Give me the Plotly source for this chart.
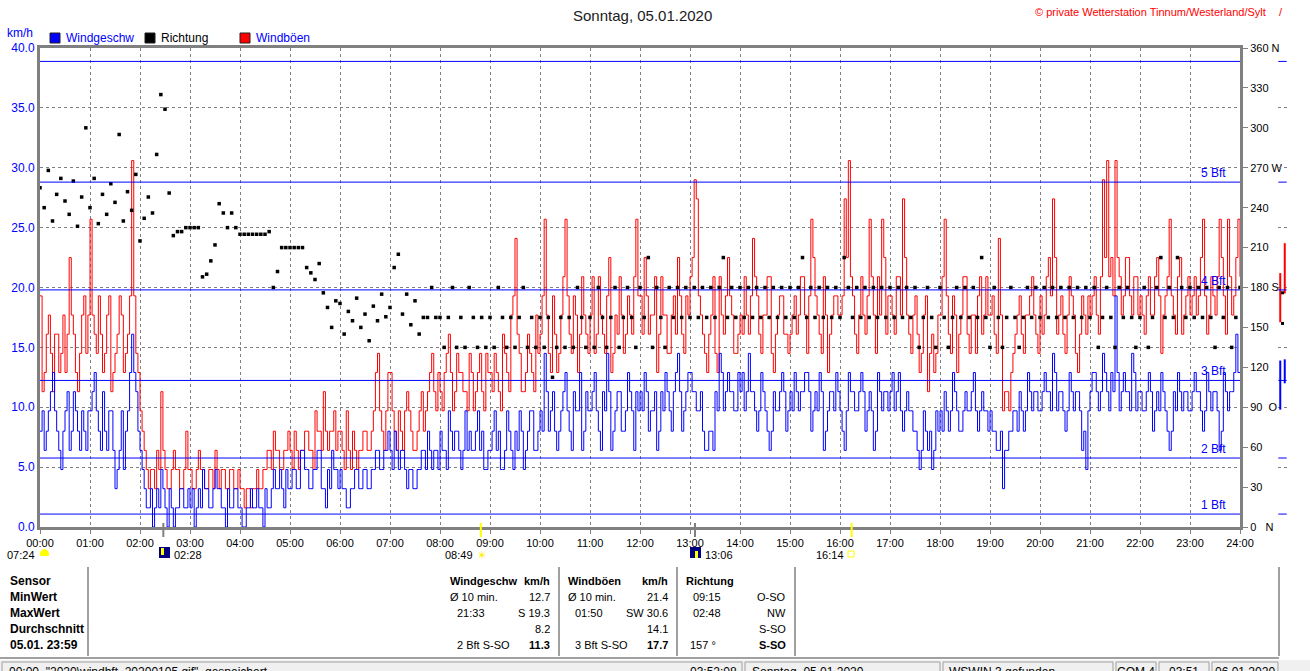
import plotly.graph_objects as go

# wind speed and gusts, 2.5 minute steps from 00:00 to 24:00 (km/h)
speed_kmh = [
    8.0, 9.7, 6.4, 8.0, 9.7, 11.3, 12.9, 9.7, 8.0, 6.4, 4.8, 8.0, 9.7, 11.3, 6.4, 8.0, 11.3, 9.7, 8.0, 6.4, 9.7, 8.0, 6.4, 9.7,
    9.7, 11.3, 12.9, 9.7, 8.0, 6.4, 11.3, 8.0, 6.4, 9.7, 9.7, 6.4, 3.2, 4.8, 6.4, 9.7, 4.8, 8.0, 9.7, 12.9, 16.1, 12.9, 11.3, 8.0,
    6.4, 4.8, 3.2, 1.6, 1.6, 3.2, 0.0, 1.6, 3.2, 1.6, 4.8, 3.2, 1.6, 0.0, 3.2, 1.6, 0.0, 1.6, 1.6, 3.2, 3.2, 1.6, 1.6, 3.2,
    1.6, 3.2, 0.0, 1.6, 3.2, 1.6, 4.8, 3.2, 3.2, 1.6, 1.6, 3.2, 4.8, 3.2, 3.2, 1.6, 1.6, 0.0, 3.2, 1.6, 1.6, 3.2, 3.2, 1.6,
    1.6, 0.0, 0.0, 1.6, 1.6, 3.2, 1.6, 1.6, 3.2, 1.6, 1.6, 0.0, 3.2, 1.6, 1.6, 3.2, 4.8, 3.2, 3.2, 4.8, 3.2, 1.6, 4.8, 3.2,
    3.2, 4.8, 4.8, 3.2, 3.2, 6.4, 6.4, 4.8, 4.8, 3.2, 3.2, 4.8, 4.8, 6.4, 6.4, 3.2, 3.2, 1.6, 4.8, 3.2, 6.4, 4.8, 4.8, 3.2,
    4.8, 3.2, 3.2, 1.6, 1.6, 3.2, 3.2, 4.8, 4.8, 3.2, 3.2, 4.8, 4.8, 3.2, 3.2, 4.8, 4.8, 6.4, 6.4, 4.8, 4.8, 6.4, 6.4, 8.0,
    6.4, 4.8, 8.0, 6.4, 4.8, 6.4, 6.4, 4.8, 3.2, 4.8, 4.8, 3.2, 3.2, 4.8, 4.8, 6.4, 6.4, 4.8, 8.0, 6.4, 4.8, 6.4, 6.4, 4.8,
    8.0, 6.4, 6.4, 4.8, 9.7, 8.0, 6.4, 8.0, 8.0, 6.4, 4.8, 6.4, 9.7, 6.4, 8.0, 6.4, 6.4, 8.0, 9.7, 6.4, 8.0, 4.8, 4.8, 6.4,
    6.4, 8.0, 9.7, 6.4, 8.0, 4.8, 4.8, 6.4, 9.7, 8.0, 6.4, 4.8, 8.0, 6.4, 9.7, 8.0, 4.8, 6.4, 8.0, 9.7, 9.7, 6.4, 6.4, 8.0,
    9.7, 8.0, 14.5, 11.3, 8.0, 9.7, 11.3, 8.0, 6.4, 8.0, 9.7, 11.3, 12.9, 9.7, 8.0, 6.4, 11.3, 9.7, 9.7, 12.9, 6.4, 8.0, 11.3, 9.7,
    9.7, 11.3, 12.9, 9.7, 8.0, 6.4, 11.3, 9.7, 14.5, 11.3, 6.4, 8.0, 9.7, 11.3, 11.3, 8.0, 8.0, 9.7, 12.9, 11.3, 9.7, 6.4, 11.3, 9.7,
    11.3, 9.7, 12.9, 11.3, 8.0, 9.7, 9.7, 11.3, 6.4, 8.0, 11.3, 9.7, 12.9, 11.3, 9.7, 8.0, 11.3, 12.9, 14.5, 11.3, 8.0, 9.7, 11.3, 12.9,
    12.9, 11.3, 11.3, 9.7, 9.7, 11.3, 8.0, 6.4, 6.4, 8.0, 8.0, 6.4, 11.3, 9.7, 14.5, 12.9, 9.7, 11.3, 12.9, 11.3, 11.3, 9.7, 9.7, 12.9,
    11.3, 12.9, 9.7, 11.3, 14.5, 11.3, 11.3, 9.7, 8.0, 9.7, 12.9, 11.3, 9.7, 8.0, 6.4, 8.0, 11.3, 9.7, 9.7, 11.3, 12.9, 11.3, 8.0, 9.7,
    11.3, 9.7, 12.9, 11.3, 9.7, 11.3, 11.3, 12.9, 12.9, 11.3, 8.0, 9.7, 11.3, 9.7, 12.9, 11.3, 6.4, 8.0, 9.7, 11.3, 11.3, 9.7, 12.9, 11.3,
    9.7, 8.0, 6.4, 9.7, 12.9, 11.3, 11.3, 9.7, 9.7, 11.3, 12.9, 11.3, 8.0, 9.7, 11.3, 9.7, 6.4, 8.0, 12.9, 11.3, 9.7, 11.3, 11.3, 9.7,
    11.3, 12.9, 9.7, 11.3, 12.9, 9.7, 8.0, 9.7, 11.3, 9.7, 9.7, 8.0, 8.0, 6.4, 4.8, 6.4, 9.7, 8.0, 6.4, 8.0, 4.8, 6.4, 9.7, 8.0,
    9.7, 8.0, 11.3, 9.7, 8.0, 9.7, 12.9, 11.3, 9.7, 8.0, 8.0, 9.7, 11.3, 9.7, 9.7, 11.3, 12.9, 9.7, 8.0, 9.7, 11.3, 9.7, 9.7, 8.0,
    9.7, 8.0, 8.0, 6.4, 6.4, 8.0, 3.2, 6.4, 6.4, 8.0, 8.0, 9.7, 9.7, 8.0, 11.3, 9.7, 8.0, 9.7, 12.9, 11.3, 9.7, 11.3, 11.3, 9.7,
    9.7, 11.3, 12.9, 11.3, 11.3, 9.7, 14.5, 12.9, 9.7, 11.3, 11.3, 9.7, 8.0, 9.7, 12.9, 11.3, 9.7, 11.3, 11.3, 9.7, 6.4, 8.0, 4.8, 9.7,
    11.3, 12.9, 12.9, 11.3, 9.7, 11.3, 14.5, 12.9, 11.3, 9.7, 12.9, 11.3, 19.3, 12.9, 9.7, 11.3, 12.9, 11.3, 11.3, 9.7, 14.5, 12.9, 9.7, 11.3,
    11.3, 9.7, 9.7, 11.3, 12.9, 11.3, 8.0, 9.7, 11.3, 9.7, 12.9, 11.3, 9.7, 8.0, 6.4, 8.0, 11.3, 9.7, 12.9, 11.3, 9.7, 11.3, 11.3, 9.7,
    9.7, 11.3, 12.9, 11.3, 11.3, 9.7, 8.0, 9.7, 12.9, 11.3, 9.7, 11.3, 11.3, 9.7, 6.4, 8.0, 12.9, 11.3, 9.7, 11.3, 11.3, 12.9, 16.1, 12.9,
    12.9,
]
gust_kmh = [
    19.3, 11.3, 12.9, 16.1, 17.7, 14.5, 11.3, 16.1, 16.1, 12.9, 14.5, 17.7, 12.9, 16.1, 22.5, 17.7, 16.1, 12.9, 11.3, 14.5, 17.7, 19.3, 14.5, 17.7,
    25.7, 17.7, 16.1, 14.5, 19.3, 16.1, 12.9, 14.5, 17.7, 19.3, 11.3, 12.9, 14.5, 16.1, 19.3, 17.7, 12.9, 14.5, 16.1, 19.3, 30.6, 19.3, 14.5, 12.9,
    9.7, 8.0, 6.4, 4.8, 3.2, 4.8, 4.8, 3.2, 6.4, 4.8, 11.3, 6.4, 4.8, 3.2, 3.2, 4.8, 6.4, 4.8, 4.8, 3.2, 3.2, 4.8, 8.0, 4.8,
    4.8, 3.2, 3.2, 4.8, 6.4, 4.8, 4.8, 3.2, 3.2, 4.8, 4.8, 3.2, 6.4, 4.8, 3.2, 4.8, 4.8, 3.2, 3.2, 4.8, 4.8, 3.2, 3.2, 4.8,
    3.2, 3.2, 1.6, 3.2, 3.2, 1.6, 3.2, 3.2, 4.8, 3.2, 3.2, 4.8, 4.8, 6.4, 6.4, 4.8, 8.0, 6.4, 6.4, 4.8, 4.8, 6.4, 6.4, 8.0,
    6.4, 4.8, 8.0, 6.4, 4.8, 6.4, 6.4, 8.0, 8.0, 6.4, 6.4, 4.8, 9.7, 8.0, 8.0, 6.4, 11.3, 8.0, 6.4, 8.0, 8.0, 9.7, 6.4, 8.0,
    8.0, 6.4, 4.8, 9.7, 6.4, 4.8, 8.0, 6.4, 4.8, 6.4, 6.4, 8.0, 8.0, 6.4, 6.4, 8.0, 9.7, 12.9, 14.5, 9.7, 8.0, 6.4, 9.7, 12.9,
    12.9, 9.7, 8.0, 6.4, 9.7, 8.0, 6.4, 9.7, 11.3, 9.7, 8.0, 6.4, 6.4, 8.0, 9.7, 11.3, 8.0, 9.7, 11.3, 12.9, 14.5, 11.3, 9.7, 12.9,
    11.3, 9.7, 12.9, 14.5, 16.1, 12.9, 9.7, 11.3, 14.5, 12.9, 12.9, 11.3, 11.3, 9.7, 14.5, 12.9, 9.7, 11.3, 12.9, 14.5, 11.3, 9.7, 14.5, 12.9,
    12.9, 11.3, 14.5, 12.9, 11.3, 9.7, 16.1, 14.5, 12.9, 11.3, 17.7, 19.3, 24.1, 16.1, 14.5, 11.3, 11.3, 12.9, 16.1, 14.5, 12.9, 11.3, 17.7, 14.5,
    16.1, 19.3, 25.7, 17.7, 14.5, 12.9, 19.3, 16.1, 12.9, 14.5, 17.7, 20.9, 25.7, 19.3, 16.1, 14.5, 19.3, 17.7, 12.9, 16.1, 20.9, 17.7, 16.1, 14.5,
    17.7, 20.9, 14.5, 16.1, 20.9, 17.7, 16.1, 14.5, 19.3, 22.5, 12.9, 14.5, 17.7, 16.1, 20.9, 17.7, 14.5, 16.1, 19.3, 17.7, 16.1, 20.9, 25.7, 19.3,
    19.3, 16.1, 22.5, 19.3, 16.1, 17.7, 17.7, 20.9, 12.9, 16.1, 20.9, 17.7, 17.7, 14.5, 14.5, 17.7, 19.3, 16.1, 22.5, 19.3, 16.1, 14.5, 19.3, 17.7,
    20.9, 22.5, 29.0, 27.4, 19.3, 17.7, 16.1, 14.5, 12.9, 16.1, 17.7, 20.9, 14.5, 12.9, 20.9, 17.7, 16.1, 19.3, 22.5, 19.3, 17.7, 14.5, 14.5, 16.1,
    17.7, 16.1, 20.9, 17.7, 16.1, 19.3, 24.1, 20.9, 19.3, 16.1, 14.5, 17.7, 17.7, 20.9, 20.9, 14.5, 12.9, 16.1, 17.7, 19.3, 19.3, 16.1, 16.1, 14.5,
    16.1, 17.7, 19.3, 16.1, 17.7, 20.9, 20.9, 17.7, 14.5, 19.3, 25.7, 22.5, 19.3, 17.7, 16.1, 14.5, 20.9, 17.7, 12.9, 16.1, 17.7, 19.3, 19.3, 17.7,
    17.7, 19.3, 27.4, 22.5, 30.6, 20.9, 19.3, 16.1, 14.5, 17.7, 20.9, 17.7, 16.1, 19.3, 25.7, 20.9, 17.7, 14.5, 20.9, 17.7, 25.7, 22.5, 16.1, 19.3,
    19.3, 17.7, 16.1, 20.9, 20.9, 17.7, 27.4, 22.5, 17.7, 16.1, 14.5, 17.7, 19.3, 16.1, 12.9, 14.5, 17.7, 19.3, 11.3, 14.5, 16.1, 12.9, 14.5, 17.7,
    17.7, 20.9, 25.7, 19.3, 16.1, 14.5, 19.3, 17.7, 12.9, 16.1, 17.7, 20.9, 20.9, 16.1, 14.5, 17.7, 17.7, 14.5, 19.3, 20.9, 16.1, 17.7, 20.9, 17.7,
    17.7, 19.3, 16.1, 14.5, 24.1, 17.7, 9.7, 11.3, 11.3, 9.7, 12.9, 14.5, 16.1, 17.7, 19.3, 16.1, 14.5, 17.7, 17.7, 19.3, 20.9, 17.7, 16.1, 14.5,
    19.3, 16.1, 17.7, 20.9, 22.5, 19.3, 27.4, 22.5, 16.1, 17.7, 19.3, 16.1, 14.5, 17.7, 20.9, 19.3, 17.7, 14.5, 12.9, 16.1, 19.3, 17.7, 16.1, 19.3,
    17.7, 19.3, 20.9, 17.7, 16.1, 20.9, 29.0, 22.5, 30.6, 20.9, 22.5, 19.3, 30.6, 22.5, 20.9, 17.7, 19.3, 22.5, 22.5, 19.3, 17.7, 20.9, 20.9, 17.7,
    19.3, 17.7, 16.1, 19.3, 20.9, 17.7, 17.7, 20.9, 22.5, 19.3, 14.5, 17.7, 19.3, 20.9, 25.7, 19.3, 17.7, 16.1, 20.9, 22.5, 16.1, 17.7, 19.3, 20.9,
    17.7, 19.3, 20.9, 17.7, 19.3, 22.5, 25.7, 19.3, 16.1, 17.7, 20.9, 19.3, 17.7, 20.9, 25.7, 22.5, 19.3, 16.1, 25.7, 20.9, 17.7, 19.3, 22.5, 25.7,
    20.9,
]
# wind direction, 5 minute steps (degrees)
direction_deg = [
    255, 240, 268, 230, 250, 262, 245, 235, 260, 226, 248, 300,
    240, 262, 228, 250, 235, 258, 244, 295, 230, 252, 238, 265,
    215, 232, 248, 236, 280, 325, 314, 251, 219, 222, 222, 225,
    225, 225, 225, 188, 190, 200, 212, 243, 236, 225, 236, 225,
    220, 220, 220, 220, 220, 220, 220, 222, 180, 192, 210, 210,
    210, 210, 210, 210, 195, 191, 186, 198, 176, 165, 150, 170,
    168, 145, 162, 155, 172, 150, 160, 140, 166, 155, 175, 158,
    165, 195, 205, 160, 175, 152, 170, 145, 157.5, 157.5, 180, 157.5,
    157.5, 135, 157.5, 180, 135, 157.5, 135, 180, 157.5, 135, 157.5, 135,
    157.5, 135, 180, 157.5, 135, 157.5, 135, 157.5, 180, 135, 157.5, 135,
    157.5, 135, 157.5, 112.5, 135, 157.5, 135, 157.5, 135, 180, 157.5, 135,
    157.5, 135, 180, 157.5, 135, 157.5, 180, 135, 157.5, 180, 157.5, 135,
    180, 157.5, 202.5, 135, 180, 157.5, 135, 180, 157.5, 180, 157.5, 180,
    157.5, 180, 157.5, 180, 157.5, 180, 157.5, 180, 202.5, 157.5, 180, 157.5,
    180, 157.5, 180, 157.5, 180, 157.5, 180, 157.5, 180, 157.5, 180, 157.5,
    180, 157.5, 180, 202.5, 157.5, 180, 157.5, 180, 157.5, 180, 157.5, 180,
    157.5, 202.5, 180, 157.5, 180, 157.5, 180, 157.5, 180, 157.5, 180, 157.5,
    180, 157.5, 180, 157.5, 180, 157.5, 180, 135, 157.5, 180, 157.5, 135,
    180, 157.5, 135, 157.5, 180, 157.5, 180, 157.5, 180, 157.5, 202.5, 157.5,
    135, 180, 157.5, 135, 157.5, 180, 157.5, 135, 157.5, 180, 157.5, 180,
    157.5, 180, 157.5, 180, 157.5, 180, 157.5, 180, 157.5, 180, 157.5, 180,
    157.5, 180, 135, 157.5, 180, 157.5, 135, 180, 157.5, 180, 157.5, 135,
    157.5, 180, 135, 157.5, 180, 202.5, 157.5, 180, 157.5, 202.5, 180, 157.5,
    180, 157.5, 180, 157.5, 180, 157.5, 135, 180, 157.5, 180, 135, 157.5,
    180,
]
minutes_fine = [i * 2.5 for i in range(len(speed_kmh))]
minutes_dir = [i * 5 for i in range(len(direction_deg))]

hour_labels = ["%02d:00" % h for h in range(25)]
dir_ticks = [0, 30, 60, 90, 120, 150, 180, 210, 240, 270, 300, 330, 360]
dir_labels = ["0\u00a0\u00a0\u00a0N", "30", "60", "90\u00a0\u00a0O", "120", "150", "180 S",
              "210", "240", "270 W", "300", "330", "360 N"]

# Beaufort lower limits in km/h
bft_limits = [1.08, 5.76, 12.24, 19.8, 28.8, 38.88]
bft_labels = ["1 Bft", "2 Bft", "3 Bft", "4 Bft", "5 Bft", ""]

# sun / moon events (minutes after midnight)
event_min = [148, 529, 786, 974]
event_color = ["#808080", "#ffff00", "#808080", "#ffff00"]

# small "now" strip on the right
strip_gust = [[17.1, 21.2], [19.5, 23.7]]
strip_speed = [[9.8, 13.9], [12.0, 14.0]]
strip_dir = [153, 176]

BLUE = "#0000ff"
RED = "#ff0000"
GRAY = "#808080"
FONT = "Liberation Sans, Arial, sans-serif"

# plot area in pixels
PL, PT, PW, PH = 40, 48, 1250, 479


def px(x):
    return (x - PL) / PW


def py(y):
    return (PT + PH - y) / PH


fig = go.Figure()
fig.add_trace(go.Scatter(x=minutes_fine, y=gust_kmh, mode="lines", line=dict(color=RED, width=1, shape="hv"),
                         name="Windböen"))
fig.add_trace(go.Scatter(x=minutes_dir, y=direction_deg, mode="markers", yaxis="y2",
                         marker=dict(color="black", size=3.5, symbol="square"), name="Richtung"))
fig.add_trace(go.Scatter(x=minutes_fine, y=speed_kmh, mode="lines", line=dict(color=BLUE, width=1, shape="hv"),
                         name="Windgeschw"))

# right hand strip
for i, seg in enumerate(strip_gust):
    fig.add_trace(go.Scatter(x=[i, i], y=seg, mode="lines", xaxis="x2", line=dict(color=RED, width=2)))
for i, seg in enumerate(strip_speed):
    fig.add_trace(go.Scatter(x=[i, i], y=seg, mode="lines", xaxis="x2", line=dict(color=BLUE, width=2)))
fig.add_trace(go.Scatter(x=[0.5] * len(strip_dir), y=strip_dir, mode="markers", xaxis="x2", yaxis="y2",
                         marker=dict(color="black", size=3, symbol="square")))
fig.add_trace(go.Scatter(x=[0.5] * len(bft_limits), y=bft_limits, mode="markers", xaxis="x2",
                         marker=dict(color=BLUE, size=6, symbol="line-ew", line=dict(color=BLUE, width=1))))

shapes = []
annotations = []

for lim, lab in zip(bft_limits, bft_labels):
    shapes.append(dict(type="line", xref="x", yref="y", x0=0, x1=1440, y0=lim, y1=lim,
                       line=dict(color=BLUE, width=1), layer="above"))
    if lab:
        annotations.append(dict(x=1426, y=lim, xref="x", yref="y", text=lab, showarrow=False,
                                xanchor="right", yanchor="bottom", font=dict(color=BLUE, size=12)))

for m, c in zip(event_min, event_color):
    shapes.append(dict(type="line", xref="x", yref="paper", x0=m, x1=m, y0=py(523), y1=py(537),
                       line=dict(color=c, width=2)))

# legend
legend = [(50, BLUE, "Windgeschw", BLUE), (145, "black", "Richtung", "black"), (240, RED, "Windböen", BLUE)]
for x0, c, txt, tc in legend:
    shapes.append(dict(type="rect", xref="paper", yref="paper", x0=px(x0), x1=px(x0 + 10),
                       y0=py(43), y1=py(33), fillcolor=c, line=dict(color="#202020", width=1)))
    annotations.append(dict(x=px(x0 + 14), y=py(38), xref="paper", yref="paper", text=txt, showarrow=False,
                            xanchor="left", yanchor="middle", font=dict(color=tc, size=12)))

annotations.append(dict(x=px(5), y=py(33), xref="paper", yref="paper", text="km/h", showarrow=False,
                        xanchor="left", yanchor="middle", font=dict(color=BLUE, size=12)))
annotations.append(dict(x=px(642), y=py(15), xref="paper", yref="paper", text="Sonntag, 05.01.2020",
                        showarrow=False, xanchor="center", yanchor="middle", font=dict(color="#202020", size=15)))
annotations.append(dict(x=px(1268), y=py(12), xref="paper", yref="paper",
                        text="© private Wetterstation Tinnum/Westerland/Sylt", showarrow=False,
                        xanchor="right", yanchor="middle", font=dict(color=RED, size=11)))
annotations.append(dict(x=px(1281), y=py(12), xref="paper", yref="paper", text="/", showarrow=False,
                        xanchor="center", yanchor="middle", font=dict(color=RED, size=11)))

# sun and moon times under the axis
event_text = [(37, "07:24", "right"), (172, "02:28", "left"), (475, "08:49", "right"),
              (703, "13:06", "left"), (846, "16:14", "right")]
for x, txt, anchor in event_text:
    annotations.append(dict(x=px(x), y=py(555), xref="paper", yref="paper", text=txt, showarrow=False,
                            xanchor=anchor, yanchor="middle", font=dict(color="black", size=11)))
annotations.append(dict(x=px(482), y=py(555), xref="paper", yref="paper", text="☀", showarrow=False,
                        xanchor="center", yanchor="middle", font=dict(color="#ffee00", size=11)))
shapes += [
    dict(type="circle", xref="paper", yref="paper", x0=px(40), x1=px(49), y0=py(560), y1=py(549),
         fillcolor="#ffff00", line=dict(width=0)),
    dict(type="rect", xref="paper", yref="paper", x0=px(39), x1=px(50), y0=py(562), y1=py(556),
         fillcolor="white", line=dict(width=0)),
    dict(type="rect", xref="paper", yref="paper", x0=px(159), x1=px(170), y0=py(558), y1=py(547),
         fillcolor="#000080", line=dict(width=0)),
    dict(type="rect", xref="paper", yref="paper", x0=px(161), x1=px(164), y0=py(555), y1=py(548),
         fillcolor="#ffff00", line=dict(width=0)),
    dict(type="rect", xref="paper", yref="paper", x0=px(690), x1=px(701), y0=py(558), y1=py(547),
         fillcolor="#000080", line=dict(width=0)),
    dict(type="rect", xref="paper", yref="paper", x0=px(695), x1=px(698), y0=py(558), y1=py(551),
         fillcolor="#ffff00", line=dict(width=0)),
    dict(type="rect", xref="paper", yref="paper", x0=px(848), x1=px(854), y0=py(557), y1=py(551),
         fillcolor="white", line=dict(color="#ffff00", width=1)),
]

# summary table
rows_y = [581, 597, 613, 629, 645]
row_labels = ["Sensor", "MinWert", "MaxWert", "Durchschnitt", "05.01. 23:59"]
speed_left = ["<b>Windgeschw</b>", "Ø 10 min.", "  21:33", "", "  2 Bft S-SO"]
speed_right = ["<b>km/h</b>", "12.7", "S 19.3", "8.2", "<b>11.3</b>"]
gust_left = ["<b>Windböen</b>", "Ø 10 min.", "  01:50", "", "  3 Bft S-SO"]
gust_right = ["<b>km/h</b>", "21.4", "SW 30.6", "14.1", "<b>17.7</b>"]
dir_left = ["<b>Richtung</b>", "  09:15", "  02:48", "", " 157 °"]
dir_right = ["", "O-SO", "NW", "S-SO", "<b>S-SO</b>"]


def cell(x, y, txt, anchor, size=11):
    if not txt:
        return
    lead = len(txt) - len(txt.lstrip(" "))
    annotations.append(dict(x=px(x + lead * 3.5), y=py(y), xref="paper", yref="paper", text=txt.strip(),
                            showarrow=False, xanchor=anchor, yanchor="middle",
                            font=dict(color="black", size=size)))


for i, y in enumerate(rows_y):
    cell(8, y, "<b>" + row_labels[i] + "</b>", "left", 12)
    cell(448, y, speed_left[i], "left")
    cell(552, y, speed_right[i], "right")
    cell(566, y, gust_left[i], "left")
    cell(670, y, gust_right[i], "right")
    cell(684, y, dir_left[i], "left")
    cell(788, y, dir_right[i], "right")

for x in [88, 559, 677, 795, 1279]:
    shapes.append(dict(type="line", xref="paper", yref="paper", x0=px(x), x1=px(x), y0=py(567), y1=py(656),
                       line=dict(color="#a0a0a0", width=2)))
shapes.append(dict(type="line", xref="paper", yref="paper", x0=px(0), x1=px(1279), y0=py(658), y1=py(658),
                   line=dict(color="#a0a0a0", width=2)))

# status bar
shapes.append(dict(type="rect", xref="paper", yref="paper", x0=px(0), x1=px(1310), y0=py(671), y1=py(660),
                   fillcolor="#f0f0f0", line=dict(width=0)))
status_boxes = [(2, 742), (745, 940), (943, 1113), (1116, 1156), (1159, 1209), (1212, 1278)]
for x0, x1 in status_boxes:
    shapes.append(dict(type="rect", xref="paper", yref="paper", x0=px(x0), x1=px(x1), y0=py(675), y1=py(662),
                       line=dict(color="#a0a0a0", width=1)))
status_text = [
    (7, '00:00  "2020\\windbft_20200105.gif"  gespeichert', "left"),
    (739, "03:52:08", "right"),
    (750, "Sonntag, 05.01.2020", "left"),
    (947, "WSWIN 3 gefunden", "left"),
    (1136, "COM 4", "center"),
    (1184, "03:51", "center"),
    (1245, "06.01.2020", "center"),
]
for x, txt, anchor in status_text:
    annotations.append(dict(x=px(x), y=py(663), xref="paper", yref="paper", text=txt, showarrow=False,
                            xanchor=anchor, yanchor="top", font=dict(color="black", size=12)))

fig.update_layout(
    width=1310,
    height=671,
    autosize=False,
    margin=dict(l=PL, r=1310 - PL - PW, t=PT, b=671 - PT - PH),
    plot_bgcolor="white",
    paper_bgcolor="white",
    showlegend=False,
    font=dict(family=FONT, size=12, color="black"),
    xaxis=dict(
        domain=[0, 1200 / PW], range=[0, 1440], tickvals=list(range(0, 1441, 60)), ticktext=hour_labels,
        showgrid=True, gridcolor=GRAY, griddash="3px,3px", gridwidth=1, zeroline=False,
        showline=True, linecolor=GRAY, linewidth=3, mirror=True, automargin=False,
        ticks="outside", ticklen=4, tickcolor=GRAY, tickfont=dict(color="black", size=11),
    ),
    xaxis2=dict(domain=[px(1278), px(1287)], range=[-0.5, 1.5], anchor="y", visible=False, automargin=False),
    yaxis=dict(
        range=[0, 40], tickvals=[0, 5, 10, 15, 20, 25, 30, 35, 40], tickformat=".1f",
        showgrid=True, gridcolor=GRAY, griddash="3px,3px", gridwidth=1, zeroline=False, automargin=False,
        showline=True, linecolor=GRAY, linewidth=3, ticks="", tickfont=dict(color=BLUE, size=12),
    ),
    yaxis2=dict(
        range=[0, 360], overlaying="y", side="right", anchor="x", tickvals=dir_ticks, ticktext=dir_labels,
        showgrid=False, zeroline=False, showline=True, linecolor=GRAY, linewidth=3, automargin=False,
        ticks="outside", ticklen=5, tickcolor=GRAY, tickfont=dict(color="black", size=11),
    ),
    shapes=shapes,
    annotations=annotations,
)

# the page should start at the very corner, like the original window
fig.write_html("out.html", config={"displayModeBar": False},
               post_script="document.body.style.margin='0';")
